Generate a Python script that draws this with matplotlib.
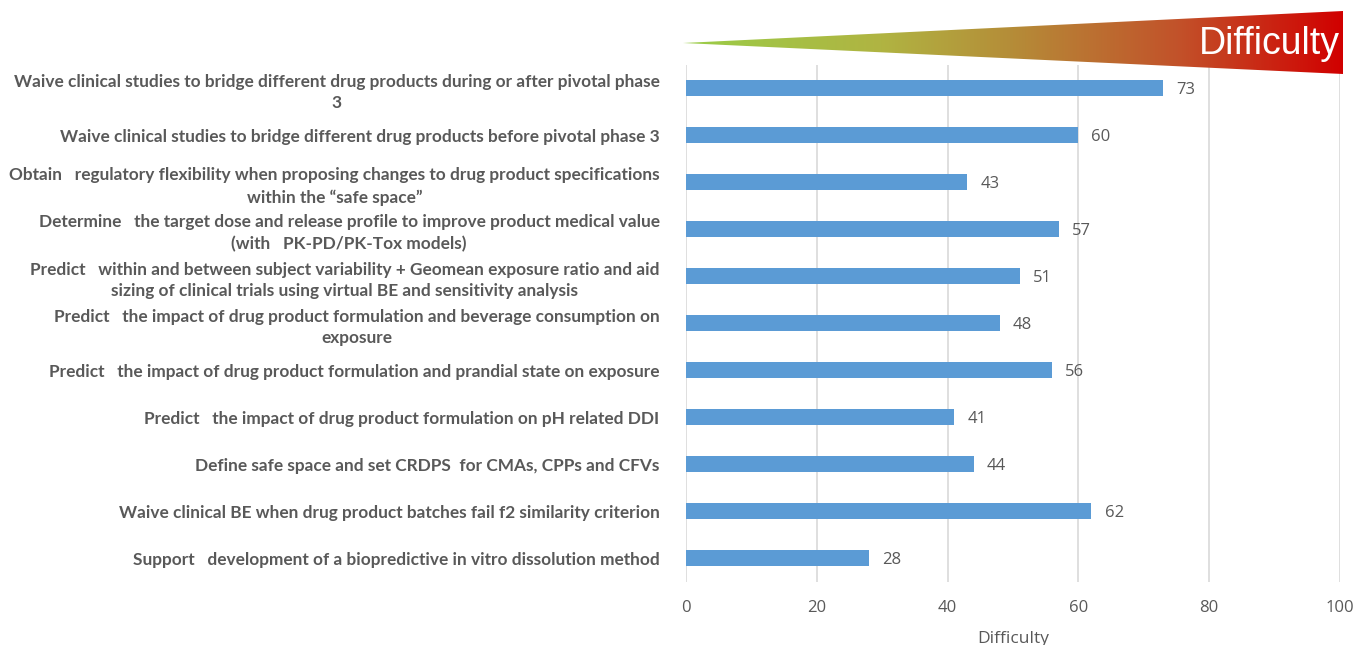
import numpy as np
import matplotlib.pyplot as plt
from matplotlib.patches import Polygon
from matplotlib.colors import LinearSegmentedColormap

labels = [
    "Waive clinical studies to bridge different drug products during or after pivotal phase\n3",
    "Waive clinical studies to bridge different drug products before pivotal phase 3",
    "Obtain   regulatory flexibility when proposing changes to drug product specifications\nwithin the \u201csafe space\u201d",
    "Determine   the target dose and release profile to improve product medical value\n(with   PK-PD/PK-Tox models)",
    "Predict   within and between subject variability + Geomean exposure ratio and aid\nsizing of clinical trials using virtual BE and sensitivity analysis",
    "Predict   the impact of drug product formulation and beverage consumption on\nexposure",
    "Predict   the impact of drug product formulation and prandial state on exposure",
    "Predict   the impact of drug product formulation on pH related DDI",
    "Define safe space and set CRDPS  for CMAs, CPPs and CFVs",
    "Waive clinical BE when drug product batches fail f2 similarity criterion",
    "Support   development of a biopredictive in vitro dissolution method",
]
difficulty = [73, 60, 43, 57, 51, 48, 56, 41, 44, 62, 28]

grey = "#595959"
fig = plt.figure(figsize=(13.57, 6.45), dpi=100)
ax = fig.add_axes([0.5055, 0.0984, 0.482, 0.8016])

y = np.arange(len(labels))
ax.barh(y, difficulty, height=0.36, color="#5B9BD5", zorder=3)
for yi, v in zip(y, difficulty):
    ax.text(v + 2, yi, str(v), va="center_baseline", ha="left", fontsize=12, color=grey,
            family="Open Sans")

ax.set_ylim(len(labels) - 0.5, -0.5)
ax.set_xlim(0, 100)
ax.set_xticks(range(0, 101, 20))
ax.set_yticks(y)
ax.set_yticklabels(labels, fontsize=12.4, fontweight="bold", color=grey,
                   family="Lato", multialignment="center", linespacing=1.45)
ax.tick_params(axis="y", length=0, pad=19)
ax.tick_params(axis="x", length=0, pad=13, labelsize=12, labelcolor=grey)
for t in ax.get_xticklabels():
    t.set_family("Open Sans")
ax.grid(axis="x", color="#d9d9d9", lw=1.2, zorder=0)
for s in ax.spines.values():
    s.set_visible(False)
ax.set_xlabel("Difficulty", fontsize=12.5, color=grey, family="Open Sans", labelpad=11)

# gradient wedge at top
wax = fig.add_axes([683 / 1357, 1 - 74 / 645, 660 / 1357, 63 / 645])
wax.set_xlim(0, 1)
wax.set_ylim(0, 1)
wax.axis("off")
cmap = LinearSegmentedColormap.from_list(
    "diff", [(0, "#9acd48"), (0.3, "#b0b442"), (0.5, "#b58c38"), (0.75, "#c2522a"), (1, "#d10000")])
im = wax.imshow(np.linspace(0, 1, 256)[None, :], cmap=cmap, aspect="auto",
                extent=[0, 1, 0, 1])
tri = Polygon([[0, 31 / 63], [1, 1], [1, 0]], closed=True, transform=wax.transData)
im.set_clip_path(tri)
wax.text(0.995, 0.47, "Difficulty", color="white", fontsize=27, ha="right",
         va="center", family="Liberation Sans")

fig.savefig("out.png", dpi=100)
